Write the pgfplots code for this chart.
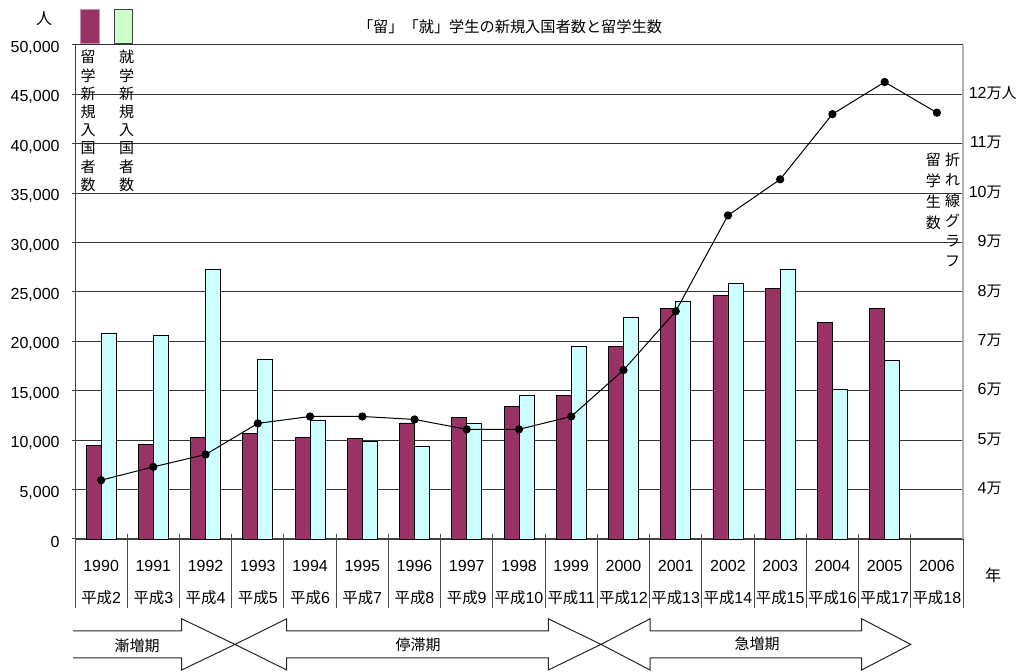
\documentclass[border=0pt]{standalone}
\usepackage{pgfplots}
\pgfplotsset{compat=1.18}
\usepackage{fontspec}
\setmainfont{Liberation Sans}
\newfontfamily\jp{Noto Sans CJK JP}
\definecolor{maroon}{HTML}{993366}
\definecolor{lcyan}{HTML}{CCFFFF}
\definecolor{lgreen}{HTML}{CCFFCC}
\newcommand{\hs}[1]{{\jp\fontsize{7.7}{16}\selectfont 平成}#1}
\newcommand{\man}{{\jp\fontsize{7.5}{9}\selectfont 万}}
\begin{document}
\begin{tikzpicture}[x=1pt,y=1pt]
\useasboundingbox (0,0) rectangle (513.5,336);
\begin{axis}[
  at={(37.5pt,66.5pt)}, anchor=south west,
  scale only axis, width=444pt, height=247pt,
  xmin=-0.5, xmax=16.5, ymin=0, ymax=50000,
  ybar=0pt, bar width=7.5pt,
  axis x line*=bottom, axis y line*=left,
  x axis line style={black!75, line width=1pt},
  y axis line style={black!75, line width=0.5pt},
  ytick={0,5000,...,50000},
  ymajorgrids, grid style={black!80, line width=0.5pt},
  scaled y ticks=false,
  /pgf/number format/1000 sep={,},
  /pgf/number format/assume math mode=true,
  tick label style={font=\fontsize{8}{9.6}\selectfont},
  ytick style={black!75, line width=0.5pt},
  tick align=outside, major tick length=1.5pt,
  yticklabel style={anchor=east, inner sep=0pt, xshift=-6pt, yshift=-1.5pt},
  xtick={0,...,16},
  xtick style={draw=none},
  xticklabels={1990\\\hs{2},1991\\\hs{3},1992\\\hs{4},1993\\\hs{5},1994\\\hs{6},1995\\\hs{7},1996\\\hs{8},1997\\\hs{9},1998\\\hs{10},1999\\\hs{11},2000\\\hs{12},2001\\\hs{13},2002\\\hs{14},2003\\\hs{15},2004\\\hs{16},2005\\\hs{17},2006\\\hs{18}},
  xticklabel style={align=center, anchor=north, inner sep=0pt, yshift=-9pt, font=\fontsize{8}{16}\selectfont},
  clip=false,
]
\addplot[fill=maroon, draw=black, line width=0.4pt] coordinates {
(0,9450) (1,9600) (2,10300) (3,10700) (4,10300) (5,10200) (6,11750) (7,12300)
(8,13400) (9,14500) (10,19450) (11,23350) (12,24650) (13,25350) (14,21900) (15,23350)};
\addplot[fill=lcyan, draw=black, line width=0.4pt] coordinates {
(0,20850) (1,20600) (2,27300) (3,18200) (4,12000) (5,9900) (6,9350) (7,11750)
(8,14500) (9,19450) (10,22400) (11,24000) (12,25850) (13,27250) (14,15100) (15,18050)};
\pgfplotsinvokeforeach{-0.5,0.5,...,16.5}{
  \draw[black!70, line width=0.5pt] (axis cs:#1,0) ++(0pt,2.5pt) -- ++(0pt,-37pt);
}
\end{axis}
\begin{axis}[
  at={(37.5pt,66.5pt)}, anchor=south west,
  scale only axis, width=444pt, height=247pt,
  xmin=-0.5, xmax=16.5, ymin=30000, ymax=130000,
  axis y line*=right, axis x line=none,
  y axis line style={black!30, line width=0.6pt},
  scaled y ticks=false,
  ytick={40000,50000,...,120000},
  yticklabels={4\man,5\man,6\man,7\man,8\man,9\man,10\man,11\man,12\man\rlap{\jp\fontsize{7.5}{9}\selectfont 人}},
  ytick style={draw=none},
  tick label style={font=\fontsize{8}{9.6}\selectfont},
  yticklabel style={anchor=east, inner sep=0pt, xshift=19.5pt, yshift=0.5pt},
  clip=false,
]
\addplot[black, line width=0.5pt, mark=*, mark size=1.8pt, mark options={fill=black}] coordinates {
(0,41900) (1,44600) (2,47100) (3,53400) (4,54800) (5,54800) (6,54200) (7,52200)
(8,52200) (9,54800) (10,64200) (11,76100) (12,95500) (13,102800) (14,116000)
(15,122500) (16,116300)};
\end{axis}
% title and unit labels
\node[font=\jp\fontsize{7.6}{8}\selectfont] at (255,322.5) {「留」「就」学生の新規入国者数と留学生数};
\node[font=\jp\fontsize{8}{9}\selectfont] at (22,326.5) {人};
\node[font=\jp\fontsize{8}{9}\selectfont] at (496.5,48.5) {年};
% legend boxes
\draw[fill=maroon, draw=maroon!55!white, line width=0.5pt] (40,314) rectangle (49.5,331);
\draw[fill=lgreen, draw=black!75, line width=0.5pt] (57,314) rectangle (66,331);
\foreach \c [count=\i] in {留,学,新,規,入,国,者,数}
  \node[font=\jp\fontsize{7.5}{9}\selectfont, inner sep=0pt] at (44,{307.5-(\i-1)*9.15}) {\c};
\foreach \c [count=\i] in {就,学,新,規,入,国,者,数}
  \node[font=\jp\fontsize{7.5}{9}\selectfont, inner sep=0pt] at (63.3,{307.5-(\i-1)*9.15}) {\c};
\foreach \c [count=\i] in {折,れ,線,グ,ラ,フ}
  \node[font=\jp\fontsize{7.5}{9}\selectfont, inner sep=0pt] at (476.3,{256-(\i-1)*10.15}) {\c};
\foreach \c [count=\i] in {留,学,生,数}
  \node[font=\jp\fontsize{7.5}{9}\selectfont, inner sep=0pt] at (466.7,{256-(\i-1)*10.4}) {\c};
% period arrows
\draw[black!85, line width=0.5pt] (36.5,20.5) -- (90.85,20.5) -- (90.85,26.6) -- (117.5,13.8) -- (90.85,1.0) -- (90.85,7.1) -- (36.5,7.1);
\draw[black!85, line width=0.5pt] (117.5,13.8) -- (143.35,26.6) -- (143.35,20.5) -- (274.15,20.5) -- (274.15,26.6) -- (300.5,13.8) -- (274.15,1.0) -- (274.15,7.1) -- (143.35,7.1) -- (143.35,1.0) -- cycle;
\draw[black!85, line width=0.5pt] (300.5,13.8) -- (325,26.6) -- (325,20.5) -- (430.85,20.5) -- (430.85,26.6) -- (455.35,13.8) -- (430.85,1.0) -- (430.85,7.1) -- (325,7.1) -- (325,1.0) -- cycle;
\node[font=\jp\fontsize{7.5}{9}\selectfont] at (68.5,13.2) {漸増期};
\node[font=\jp\fontsize{7.5}{9}\selectfont] at (209,13.6) {停滞期};
\node[font=\jp\fontsize{7.5}{9}\selectfont] at (378.5,14.2) {急増期};
\end{tikzpicture}
\end{document}
